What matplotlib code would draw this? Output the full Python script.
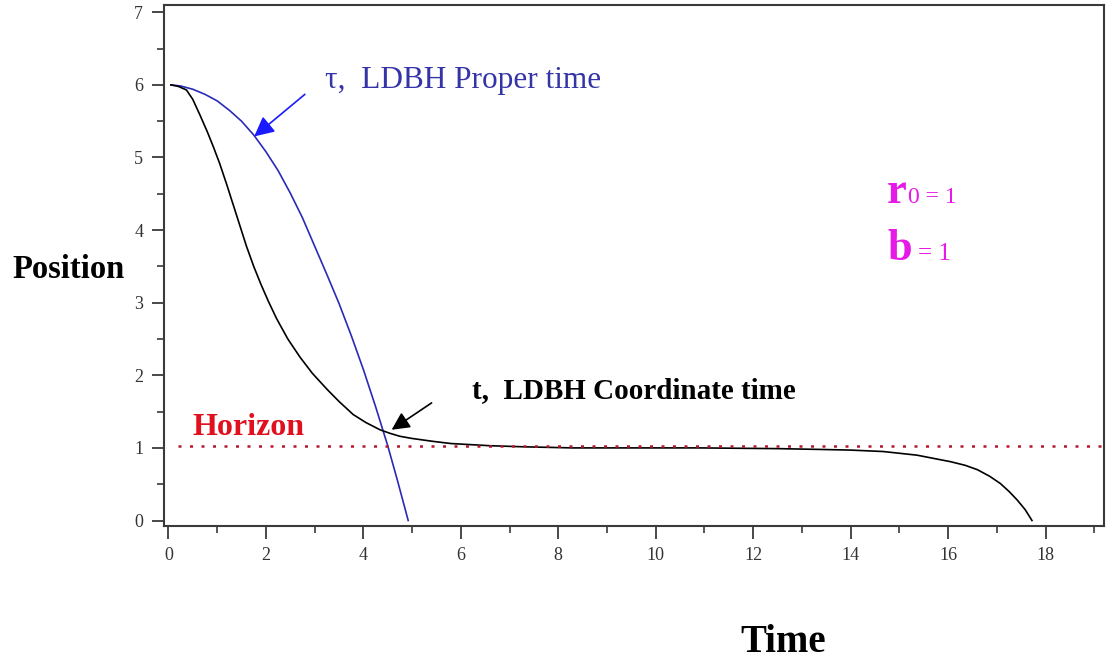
import numpy as np
import matplotlib
matplotlib.use("Agg")
import matplotlib.pyplot as plt
from matplotlib.ticker import MultipleLocator


# ============================================================
# Data
# ============================================================
# tau, LDBH proper time (blue)
tau = [0.05, 0.25, 0.50, 0.75, 1.00, 1.25, 1.50, 1.75, 2.00, 2.25,
       2.50, 2.75, 3.00, 3.25, 3.50, 3.75, 4.00, 4.25, 4.50, 4.70,
       4.92]
r_tau = [6.00, 5.985, 5.94, 5.87, 5.78, 5.65, 5.50, 5.31, 5.08, 4.82,
         4.51, 4.17, 3.78, 3.39, 2.99, 2.55, 2.08, 1.57, 1.03, 0.55,
         0.00]

# t, LDBH coordinate time (black)
t = [0.05, 0.20, 0.37, 0.50, 0.65, 0.80, 0.92, 1.05, 1.20, 1.40,
     1.60, 1.75, 1.90, 2.05, 2.22, 2.45, 2.70, 2.95, 3.25, 3.50,
     3.79, 4.05, 4.34, 4.55, 4.75, 5.00, 5.43, 5.80, 6.60, 7.30,
     8.30, 10.90, 12.50, 13.30, 14.00, 14.67, 15.36, 16.05, 16.35, 16.60,
     16.85, 17.07, 17.25, 17.42, 17.58, 17.72]
r_t = [6.00, 5.98, 5.93, 5.80, 5.58, 5.35, 5.15, 4.92, 4.62, 4.20,
       3.78, 3.50, 3.25, 3.02, 2.78, 2.50, 2.25, 2.03, 1.81, 1.64,
       1.46, 1.35, 1.25, 1.20, 1.16, 1.13, 1.09, 1.06, 1.03, 1.015,
       1.00, 1.00, 0.99, 0.98, 0.97, 0.95, 0.90, 0.81, 0.76, 0.70,
       0.61, 0.51, 0.40, 0.28, 0.15, 0.00]

horizon = 1.03
r0 = 1
b = 1

x_ticks = [0, 2, 4, 6, 8, 10, 12, 14, 16, 18]
y_ticks = [0, 1, 2, 3, 4, 5, 6, 7]

SERIF = ["Liberation Serif", "DejaVu Serif"]
plt.rcParams["font.family"] = SERIF


# ============================================================
# Figure
# ============================================================
fig = plt.figure(figsize=(11.13, 6.62), dpi=100)
ax = fig.add_axes([0.1474, 0.2054, 0.8446, 0.787])

ax.plot(tau, r_tau, color="#2a2ab8", lw=1.2)
ax.plot(t, r_t, color="black", lw=1.2)
ax.axhline(horizon, xmin=0.015, xmax=1.0, color="#b5182e", lw=1.8,
           ls=(0, (1.2, 3.4)))

ax.set_xlim(-0.09, 19.2)
ax.set_ylim(-0.076, 7.10)

ax.set_xticks(x_ticks)
ax.set_yticks(y_ticks)
ax.xaxis.set_minor_locator(MultipleLocator(1))
ax.yaxis.set_minor_locator(MultipleLocator(0.5))
ax.tick_params(which="major", direction="out", length=9, width=1.3,
               color="#3a3a3a", labelsize=13, labelcolor="#333333", pad=6)
ax.tick_params(which="minor", direction="out", length=5, width=1.2,
               color="#3a3a3a")
for s in ax.spines.values():
    s.set_color("#3a3a3a")
    s.set_linewidth(1.5)

# ============================================================
# Annotations
# ============================================================
ax.annotate("", xy=(1.76, 5.29), xytext=(2.80, 5.87),
            arrowprops=dict(arrowstyle="-|>", mutation_scale=30,
                            lw=1.2, color="#1a1aff", shrinkA=0, shrinkB=0))
ax.annotate("", xy=(4.58, 1.25), xytext=(5.40, 1.62),
            arrowprops=dict(arrowstyle="-|>", mutation_scale=27,
                            lw=1.2, color="black", shrinkA=0, shrinkB=0))

ax.text(3.21, 5.96, "τ,  LDBH Proper time", color="#3434a8",
        fontsize=22.5, va="baseline", ha="left")
ax.text(6.23, 1.69, "t,  LDBH Coordinate time", color="black",
        fontsize=21, fontweight="bold", va="baseline", ha="left")
ax.text(0.50, 1.18, "Horizon", color="#e0101e", fontsize=23,
        fontweight="bold", va="baseline", ha="left")

ax.text(14.75, 4.37, "r", color="#e619e6", fontsize=32,
        fontweight="bold", va="baseline", ha="left")
ax.text(15.18, 4.37, f"0 = {r0}", color="#e619e6", fontsize=17,
        va="baseline", ha="left")
ax.text(14.75, 3.59, "b", color="#e619e6", fontsize=32,
        fontweight="bold", va="baseline", ha="left")
ax.text(15.39, 3.59, f"= {b}", color="#e619e6", fontsize=18,
        va="baseline", ha="left")

fig.text(0.0108, 0.58, "Position", fontsize=23.5, fontweight="bold",
         va="baseline", ha="left")
fig.text(0.704, 0.015, "Time", fontsize=28, fontweight="bold",
         va="baseline", ha="center")

fig.savefig("out.png", dpi=100)
